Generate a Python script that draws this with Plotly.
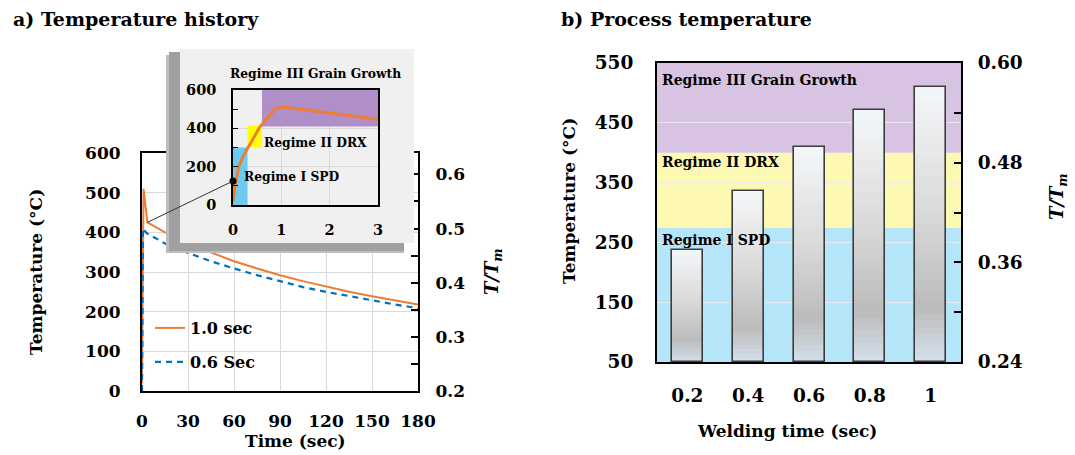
import plotly.graph_objects as go

W, H = 1075, 455
FONT = "DejaVu Serif, serif"

# ---------------- data ----------------
# a) temperature history (main)
t_10 = [0, 1, 3.5, 15, 30, 45, 60, 75, 90, 105, 120, 135, 150, 165, 180]
T_10 = [20, 510, 425, 400, 372, 349, 327, 309, 292, 277, 263, 250, 239, 228, 218]
t_06 = [0, 0.6, 3, 15, 30, 45, 60, 75, 90, 105, 120, 135, 150, 165, 180]
T_06 = [0, 410, 398, 372, 348, 327, 309, 292, 277, 262, 250, 239, 229, 218, 209]
# inset: first 3 s of the 1.0 sec curve
t_in = [0, 0.05, 0.12, 0.2, 0.32, 0.45, 0.56, 0.7, 0.87, 1.0, 2.0, 3.0]
T_in = [20, 113, 200, 250, 304, 360, 409, 450, 500, 512, 480, 447]
mark_in = (0, 125)
# inset regimes [x0, x1, y0, y1]
regime_names = ["Regime I SPD", "Regime II DRX", "Regime III Grain Growth"]
inset_regimes = [[0, 0.3, 0, 300], [0.3, 0.6, 300, 415], [0.6, 3, 410, 600]]
inset_colors = ["#6dcbf0", "#ffff00", "#b08fc9"]

# b) process temperature
weld_time = ["0.2", "0.4", "0.6", "0.8", "1"]
peak_T = [238, 336, 409, 472, 510]
band_lims = [[50, 275], [275, 400], [400, 550]]
band_colors = ["#b4e5f8", "#fdf8b2", "#d9c3e2"]

# ---------------- geometry (pixels) ----------------
def dx(a, b):
    return [a / W, b / W]

def dy(top, bottom):
    return [1 - bottom / H, 1 - top / H]

MAIN_X, MAIN_Y = dx(142, 418), dy(153, 391)
BOX_X, BOX_Y = dx(166, 414), dy(49, 253)
INS_X, INS_Y = dx(233, 378), dy(90, 205)
RGT_X, RGT_Y = dx(657, 961), dy(63, 362)

MAIN_XR, MAIN_YR = [0, 180], [0, 600]
INS_XR, INS_YR = [0, 3], [0, 600]


def to_paper(xv, yv, xdom, xr, ydom, yr):
    px = xdom[0] + (xv - xr[0]) / (xr[1] - xr[0]) * (xdom[1] - xdom[0])
    py = ydom[0] + (yv - yr[0]) / (yr[1] - yr[0]) * (ydom[1] - ydom[0])
    return px, py


def tf(size):
    return dict(family=FONT, size=size, color="black", weight="bold")


fig = go.Figure()

# ---------- main curves ----------
fig.add_trace(go.Scatter(x=t_10, y=T_10, mode="lines", name="1.0 sec",
                         line=dict(color="#ed7d31", width=2), xaxis="x", yaxis="y",
                         legend="legend"))
fig.add_trace(go.Scatter(x=t_06, y=T_06, mode="lines", name="0.6 Sec",
                         line=dict(color="#0070c0", width=2.2, dash="6px,5px"),
                         xaxis="x", yaxis="y", legend="legend2"))

# ---------- inset box (shadow + panel) ----------
fig.add_trace(go.Scatter(x=[166, 404, 404, 166, 166], y=[55, 55, 253, 253, 55],
                         fill="toself", fillcolor="#bdbdbd", line=dict(width=0),
                         mode="lines", hoverinfo="skip", showlegend=False,
                         xaxis="x2", yaxis="y3"))
fig.add_trace(go.Scatter(x=[169, 404, 404, 169, 169], y=[52, 52, 251, 251, 52],
                         fill="toself", fillcolor="#a0a0a0", line=dict(width=0),
                         mode="lines", hoverinfo="skip", showlegend=False,
                         xaxis="x2", yaxis="y3"))
fig.add_trace(go.Scatter(x=[180, 414, 414, 180, 180], y=[49, 49, 243, 243, 49],
                         fill="toself", fillcolor="#f0f0f0", line=dict(width=0),
                         mode="lines", hoverinfo="skip", showlegend=False,
                         xaxis="x2", yaxis="y3"))

# ---------- inset regimes ----------
for (x0, x1, y0, y1), c in zip(inset_regimes, inset_colors):
    fig.add_trace(go.Scatter(x=[x0, x1, x1, x0, x0], y=[y0, y0, y1, y1, y0],
                             fill="toself", fillcolor=c, line=dict(width=0),
                             mode="lines", hoverinfo="skip", showlegend=False,
                             xaxis="x3", yaxis="y4"))
fig.add_trace(go.Scatter(x=t_in, y=T_in, mode="lines", line=dict(color="#ed7d31", width=3),
                         showlegend=False, xaxis="x3", yaxis="y4"))
fig.add_trace(go.Scatter(x=[mark_in[0]], y=[mark_in[1]], mode="markers",
                         marker=dict(color="black", size=7), cliponaxis=False,
                         showlegend=False, xaxis="x3", yaxis="y4"))

# ---------- right panel bars with gradient ----------
stops = [(0.0, (0xf4, 0xf7, 0xfa)), (0.45, (0xda, 0xda, 0xda)),
         (0.8, (0xbb, 0xbb, 0xbb)), (1.0, (0xd4, 0xe0, 0xec))]


def grad(f):
    for (f0, c0), (f1, c1) in zip(stops[:-1], stops[1:]):
        if f0 <= f <= f1:
            u = (f - f0) / (f1 - f0)
            return "rgb(%d,%d,%d)" % tuple(round(a + (b - a) * u) for a, b in zip(c0, c1))
    return "rgb(%d,%d,%d)" % stops[-1][1]


base_T = band_lims[0][0]
N = 40
BW = 0.51
for j in range(N):
    f_top = 1 - (j + 1) / N
    f_mid = f_top + 0.5 / N
    fig.add_trace(go.Bar(x=weld_time, y=[(v - base_T) / N for v in peak_T],
                         base=[base_T + (v - base_T) * j / N for v in peak_T],
                         width=BW, marker=dict(color=grad(f_mid), line=dict(width=0)),
                         hoverinfo="skip", showlegend=False, xaxis="x4", yaxis="y5"))
fig.add_trace(go.Bar(x=weld_time, y=[v - base_T for v in peak_T], base=[base_T] * len(peak_T),
                     width=BW, marker=dict(color="rgba(0,0,0,0)",
                                           line=dict(color="#3c3c3c", width=1.6)),
                     showlegend=False, xaxis="x4", yaxis="y5"))
# invisible traces to activate the right T/Tm axes
fig.add_trace(go.Scatter(x=[weld_time[0]], y=[0.3], mode="markers", opacity=0,
                         showlegend=False, hoverinfo="skip", xaxis="x4", yaxis="y6"))
fig.add_trace(go.Scatter(x=[0], y=[0.3], mode="markers", opacity=0,
                         showlegend=False, hoverinfo="skip", xaxis="x", yaxis="y2"))

# ---------- shapes ----------
shapes = []
for (y0, y1), c in zip(band_lims, band_colors):
    shapes.append(dict(type="rect", xref="x4 domain", yref="y5", x0=0, x1=1, y0=y0, y1=y1,
                       fillcolor=c, line=dict(width=0), layer="below"))
# connector from inset marker to main curve
p0 = to_paper(mark_in[0], mark_in[1], INS_X, INS_XR, INS_Y, INS_YR)
p1 = to_paper(t_10[2], T_10[2], MAIN_X, MAIN_XR, MAIN_Y, MAIN_YR)
shapes.append(dict(type="line", xref="paper", yref="paper", x0=p0[0], y0=p0[1],
                   x1=p1[0], y1=p1[1], line=dict(color="#333333", width=1), layer="above"))

# ---------- annotations ----------
ann = []


def A(text, x, y, size, xanchor="left", angle=0, yanchor="middle"):
    ann.append(dict(text=text, x=x / W, y=1 - y / H, xref="paper", yref="paper",
                    xanchor=xanchor, yanchor=yanchor, showarrow=False, textangle=angle,
                    font=tf(size)))


A("a) Temperature history", 11, 19, 19)
A("b) Process temperature", 559, 19, 19)
A("Temperature (°C)", 36, 272, 17, xanchor="center", angle=-90)
A("<i>T/T<sub>m</sub></i>", 493, 272, 18, xanchor="center", angle=-90)
A("Time (sec)", 295, 441, 17, xanchor="center")
A("Temperature (°C)", 569, 201, 17, xanchor="center", angle=-90)
A("<i>T/T<sub>m</sub></i>", 1058, 197, 18, xanchor="center", angle=-90)
A("Welding time (sec)", 787, 431, 17, xanchor="center")
A(regime_names[2], 660, 80, 14)
A(regime_names[1], 660, 162, 14)
A(regime_names[0], 660, 240, 14)
A(regime_names[2], 228, 74, 12.3)
A(regime_names[1], 262, 142, 12.3)
A(regime_names[0], 242, 177, 12.3)

grid = "#d9d9d9"
fig.update_layout(
    width=W, height=H, margin=dict(l=0, r=0, t=0, b=0, pad=0, autoexpand=False),
    paper_bgcolor="white", plot_bgcolor="rgba(0,0,0,0)",
    barmode="overlay", bargap=0, showlegend=True,
    shapes=shapes, annotations=ann,
    legend=dict(x=150 / W, y=1 - 328 / H, xanchor="left", yanchor="middle",
                bgcolor="rgba(0,0,0,0)", font=tf(16)),
    legend2=dict(x=150 / W, y=1 - 362 / H, xanchor="left", yanchor="middle",
                 bgcolor="rgba(0,0,0,0)", font=tf(16)),
    xaxis=dict(domain=MAIN_X, anchor="y", range=MAIN_XR, dtick=30, tick0=0,
               showgrid=True, gridcolor=grid, zeroline=False, showline=True,
               linecolor="black", linewidth=2, mirror=True, ticks="",
               tickfont=tf(17), ticklabelstandoff=14),
    yaxis=dict(domain=MAIN_Y, anchor="x", range=MAIN_YR, dtick=100,
               showgrid=True, gridcolor=grid, zeroline=False, showline=True,
               linecolor="black", linewidth=2, mirror=True, ticks="",
               tickfont=tf(17), ticklabelstandoff=16),
    yaxis2=dict(overlaying="y", side="right", anchor="x", range=[0.2, 873 / 1365],
                tickvals=[0.2, 0.3, 0.4, 0.5, 0.6], tickformat=".1f",
                showgrid=False, zeroline=False, showline=True, linecolor="black",
                linewidth=2, ticks="inside", ticklen=7, tickwidth=1.5, tickcolor="black",
                minor=dict(dtick=0.05, tick0=0.2, ticks="inside", ticklen=7,
                           tickwidth=1.5, tickcolor="black", showgrid=False),
                tickfont=tf(17), ticklabelstandoff=12),
    xaxis2=dict(domain=BOX_X, anchor="y3", range=[166, 414], visible=False),
    yaxis3=dict(domain=BOX_Y, anchor="x2", range=[253, 49], visible=False),
    xaxis3=dict(domain=INS_X, anchor="y4", range=INS_XR, dtick=1, showgrid=True,
                gridcolor=grid, zeroline=False, showline=True, linecolor="black",
                linewidth=1.5, mirror=True, ticks="", tickfont=tf(14.5),
                ticklabelstandoff=11),
    yaxis4=dict(domain=INS_Y, anchor="x3", range=INS_YR, tickvals=[0, 200, 400, 600],
                showgrid=True, gridcolor=grid, zeroline=False, showline=True,
                linecolor="black", linewidth=1.5, mirror=True, ticks="inside",
                ticklen=5, tickcolor="black",
                minor=dict(dtick=100, ticks="inside", ticklen=5, tickcolor="black"),
                tickfont=tf(14.5), ticklabelstandoff=12),
    xaxis4=dict(domain=RGT_X, anchor="y5", type="category", showgrid=False,
                zeroline=False, showline=True, linecolor="black", linewidth=2,
                mirror=True, ticks="", tickfont=tf(18.5), ticklabelstandoff=16),
    yaxis5=dict(domain=RGT_Y, anchor="x4", range=[50, 550],
                tickvals=[50, 150, 250, 350, 450, 550], showgrid=True,
                gridcolor="rgba(235,235,235,0.9)", zeroline=False, showline=True,
                linecolor="black", linewidth=2, mirror=True, ticks="",
                tickfont=tf(18.5), ticklabelstandoff=18),
    yaxis6=dict(overlaying="y5", side="right", anchor="x4", range=[0.24, 0.60],
                tickvals=[0.24, 0.36, 0.48, 0.60], tickformat=".2f", showgrid=False,
                zeroline=False, showline=True, linecolor="black", linewidth=2,
                ticks="inside", ticklen=7, tickwidth=1.5, tickcolor="black",
                minor=dict(dtick=0.06, tick0=0.24, ticks="inside", ticklen=7,
                           tickwidth=1.5, tickcolor="black", showgrid=False),
                tickfont=tf(18.5), ticklabelstandoff=11),
)

fig.write_html("out.html")
